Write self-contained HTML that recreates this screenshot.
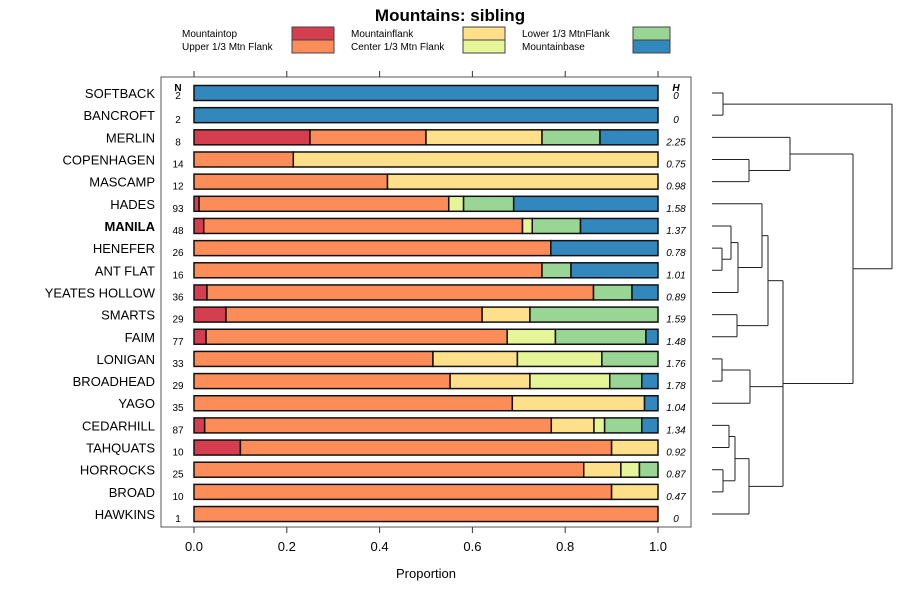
<!DOCTYPE html>
<html><head><meta charset="utf-8"><style>
body{margin:0;background:#fff;}
svg text{font-family:"Liberation Sans",sans-serif;}
</style></head><body>
<svg id="chart" width="900" height="600" xmlns="http://www.w3.org/2000/svg">
<rect width="900" height="600" fill="#fff"/>
<text x="450" y="21" text-anchor="middle" font-size="17" font-weight="bold">Mountains: sibling</text>
<g id="legend"></g>
<rect x="161" y="77" width="530" height="450" fill="none" stroke="#555" stroke-width="1"/>
<g id="axes"></g>
<g id="bars"></g>
<g id="dendro" stroke="#222" stroke-width="1" fill="none"></g>
<text x="426" y="578" text-anchor="middle" font-size="13">Proportion</text>
</svg>
<script>
const categories=["SOFTBACK","BANCROFT","MERLIN","COPENHAGEN","MASCAMP","HADES","MANILA","HENEFER","ANT FLAT","YEATES HOLLOW","SMARTS","FAIM","LONIGAN","BROADHEAD","YAGO","CEDARHILL","TAHQUATS","HORROCKS","BROAD","HAWKINS"];
const nValues=[2,2,8,14,12,93,48,26,16,36,29,77,33,29,35,87,10,25,10,1];
const hValues=["0","0","2.25","0.75","0.98","1.58","1.37","0.78","1.01","0.89","1.59","1.48","1.76","1.78","1.04","1.34","0.92","0.87","0.47","0"];
const seriesNames=["Mountaintop","Upper 1/3 Mtn Flank","Mountainflank","Center 1/3 Mtn Flank","Lower 1/3 MtnFlank","Mountainbase"];
const mountaintop=[0,0,.25,0,0,.011,.021,0,0,.028,.069,.026,0,0,0,.023,.1,0,0,0];
const upperFlank=[0,0,.25,.214,.417,.538,.687,.769,.75,.833,.552,.649,.515,.552,.686,.747,.8,.84,.9,1];
const mountainflank=[0,0,.25,.786,.583,0,0,0,0,0,.103,0,.182,.172,.285,.092,.1,.08,.1,0];
const centerFlank=[0,0,0,0,0,.032,.021,0,0,0,0,.104,.182,.172,0,.023,0,.04,0,0];
const lowerFlank=[0,0,.125,0,0,.108,.104,0,.0625,.083,.276,.195,.121,.069,0,.080,0,.04,0,0];
const mountainbase=[1,1,.125,0,0,.311,.167,.231,.1875,.056,0,.026,0,.035,.029,.035,0,0,0,0];
const xTicks=[0,0.2,0.4,0.6,0.8,1.0];
const xTickLabels=["0.0","0.2","0.4","0.6","0.8","1.0"];
const colors=["#D53E4F","#FC8D59","#FEE08B","#E6F598","#99D594","#3288BD"];
const series=[mountaintop,upperFlank,mountainflank,centerFlank,lowerFlank,mountainbase];

const NS="http://www.w3.org/2000/svg";
function mk(tag,attrs,parent,text){const e=document.createElementNS(NS,tag);for(const k in attrs)e.setAttribute(k,attrs[k]);if(text!==undefined)e.textContent=text;parent.appendChild(e);return e;}
const x0=194,x1=658;
const xs=v=>x0+v*(x1-x0);
const ys=i=>93+i*22.16;
const bh=15;

const lg=document.getElementById('legend');
const lpos=[[182,292],[182,292],[351,463],[351,463],[522,633],[522,633]];
seriesNames.forEach((n,i)=>{
  const row=i%2;const y=27+row*13;
  const t=mk('text',{x:lpos[i][0],y:y+10,'font-size':10},lg,n);
  
  
  const r=mk('rect',{x:lpos[i][1],y:y,width:(i>=4?37:42),height:13,fill:colors[i],stroke:'#444','stroke-width':1},lg);
  
  
});

const ax=document.getElementById('axes');
xTicks.forEach((v,i)=>{
  mk('line',{x1:xs(v),x2:xs(v),y1:527,y2:533,stroke:'#333'},ax);
  mk('line',{x1:xs(v),x2:xs(v),y1:71,y2:77,stroke:'#333'},ax);
  const t=mk('text',{x:xs(v),y:551,'text-anchor':'middle','font-size':13},ax,xTickLabels[i]);
  
  
});
mk('text',{x:178,y:91,'text-anchor':'middle','font-size':10,'font-weight':'bold'},ax,'N');
mk('text',{x:676,y:91,'text-anchor':'middle','font-size':10,'font-weight':'bold','font-style':'italic'},ax,'H');

const bg=document.getElementById('bars');
categories.forEach((c,i)=>{
  const y=ys(i);
  const lab=mk('text',{x:155,y:y+5,'text-anchor':'end','font-size':13,'font-weight':c==='MANILA'?'bold':'normal'},bg,c);
  
  
  const nt=mk('text',{x:178,y:y+(i===0?6:8),'text-anchor':'middle','font-size':10},bg,String(nValues[i]));
  
  
  const ht=mk('text',{x:676,y:y+(i===0?6:8),'text-anchor':'middle','font-size':10,'font-style':'italic'},bg,hValues[i]);
  
  
  let acc=0;
  series.forEach((s,k)=>{
    const v=s[i];
    if(v>0){
      const r=mk('rect',{x:xs(acc),y:y-bh/2,width:xs(acc+v)-xs(acc),height:bh,fill:colors[k],stroke:'#111','stroke-width':1.5},bg);
      
      
    }
    acc+=v;
  });
});

const dg=document.getElementById('dendro');
function seg(a,b,c,d){mk('line',{x1:a,y1:b,x2:c,y2:d},dg);}
function join(xa,ya,xb,yb,xm){seg(xa,ya,xm,ya);seg(xb,yb,xm,yb);seg(xm,ya,xm,yb);return (ya+yb)/2;}
const L=712;const Y=ys;
const n01=join(L,Y(0),L,Y(1),723);
const n34=join(L,Y(3),L,Y(4),749);
const nM=join(L,Y(2),749,n34,790);
const n78=join(L,Y(7),L,Y(8),722);
const n678=join(L,Y(6),722,n78,731);
const n6789=join(731,n678,L,Y(9),738);
const n5=join(L,Y(5),738,n6789,762);
const n1011=join(L,Y(10),L,Y(11),737);
const nA=join(762,n5,737,n1011,768);
const n1213=join(L,Y(12),L,Y(13),722);
const nB=join(722,n1213,L,Y(14),750);
const n1516=join(L,Y(15),L,Y(16),729);
const n1718=join(L,Y(17),L,Y(18),723);
const nC1=join(729,n1516,723,n1718,735);
const nC=join(735,nC1,L,Y(19),749);
seg(768,nA,783,nA);seg(750,nB,783,nB);seg(749,nC,783,nC);seg(783,nA,783,nC);
const nD=(nA+nC)/2;
const nE=join(790,nM,783,nD,853);
join(723,n01,853,nE,892);
</script>
</body></html>
